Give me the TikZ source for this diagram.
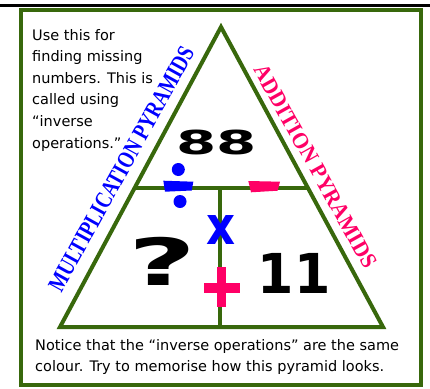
\documentclass[tikz,border=0pt]{standalone}
\usepackage{fontspec}
\usepackage{graphicx}
\setmainfont{DejaVu Sans}
\newfontfamily\labfont{Liberation Serif}
\newfontfamily\numfont{DejaVu Sans}
\usetikzlibrary{calc}
\definecolor{frgreen}{RGB}{56,104,12}
\definecolor{opblue}{RGB}{0,0,255}
\definecolor{oppink}{RGB}{255,0,102}
\tikzset{
  frameline/.style={draw=frgreen, line width=4pt},
  triline/.style={draw=frgreen, line width=4pt, line join=miter},
  innerline/.style={draw=frgreen, line width=3.5pt},
  txt/.style={inner sep=0pt, anchor=base west, font=\fontsize{14.5}{17}\selectfont},
  toptxt/.style={txt},
  bignum/.style={inner sep=0pt, text=black},
}
\begin{document}
\begin{tikzpicture}[x=1pt,y=-1pt]
\useasboundingbox (0,0) rectangle (430,388);
\fill[white] (0,0) rectangle (430,388);
% top rule
\coordinate (rl) at (0,5.3);
\coordinate (rr) at (430,5.3);
\draw[line width=2.5pt] (rl) -- (rr);
% frame
\coordinate (f1) at (20.5,10.3);
\coordinate (f2) at (420.5,385);
\draw[frameline] (f1) rectangle (f2);
% triangle
\coordinate (A) at (221,27);
\coordinate (B) at (60,327);
\coordinate (C) at (383,327);
\coordinate (L) at ($(A)!0.5367!(B)$);
\coordinate (R) at ($(A)!0.5367!(C)$);
\coordinate (T) at (220,188);
\coordinate (F) at (220,327);
\draw[innerline] (L) -- (R);
\draw[innerline] (T) -- (F);
\draw[triline] (A) -- (B) -- (C) -- cycle;
% divide sign
\fill[opblue] (163.3,180.7) -- (193.3,181.7) -- (191.7,190.5) -- (165,191.7) -- cycle;
\fill[opblue] (178.3,169.5) circle (6.5);
\fill[opblue] (180,201.5) circle (6.5);
% minus sign
\fill[oppink] (248.3,181) -- (280,181.7) -- (277.7,190.7) -- (251,192.3) -- cycle;
% plus sign
\fill[oppink] (203.5,282.5) rectangle (239.5,292.5);
\fill[oppink] (216.5,267) rectangle (225.5,307);
% times sign
\node[inner sep=0pt, text=opblue, font=\numfont\fontsize{53}{53}\selectfont\bfseries] (times) at (221,230.5) {\scalebox{0.85}[1]{x}};
% numbers
\node[bignum, font=\numfont\fontsize{33}{33}\selectfont\bfseries] (n88) at (216.7,142.7) {\scalebox{1.75}[1]{88}};
\node[bignum, font=\numfont\fontsize{65}{65}\selectfont\bfseries] (nq) at (162,261) {\scalebox{1.8}[1]{?}};
\node[bignum, font=\numfont\fontsize{55}{55}\selectfont\bfseries] (n11) at (294,273) {\scalebox{0.95}[1]{11}};
% side labels
\node[inner sep=0pt, rotate=61, text=opblue] (mult) at (121.3,168.8) {\resizebox{276pt}{16pt}{\labfont\bfseries MULTIPLICATION PYRAMIDS}};
\node[inner sep=0pt, rotate=-60.8, text=oppink] (add) at (315.7,166.3) {\resizebox{229pt}{15pt}{\labfont\bfseries ADDITION PYRAMIDS}};
% top-left text
\node[toptxt] (t1) at (32,40) {Use this for};
\node[toptxt] (t2) at (32,61.6) {finding missing};
\node[toptxt] (t3) at (32,83.2) {numbers. This is};
\node[toptxt] (t4) at (32,104.8) {called using};
\node[toptxt] (t5) at (32,126.4) {“inverse};
\node[toptxt] (t6) at (32,148) {operations.”};
% bottom text
\node[txt] (b1) at (35,350) {Notice that the “inverse operations” are the same};
\node[txt] (b2) at (35,371.7) {colour. Try to memorise how this pyramid looks.};
\end{tikzpicture}
\end{document}
